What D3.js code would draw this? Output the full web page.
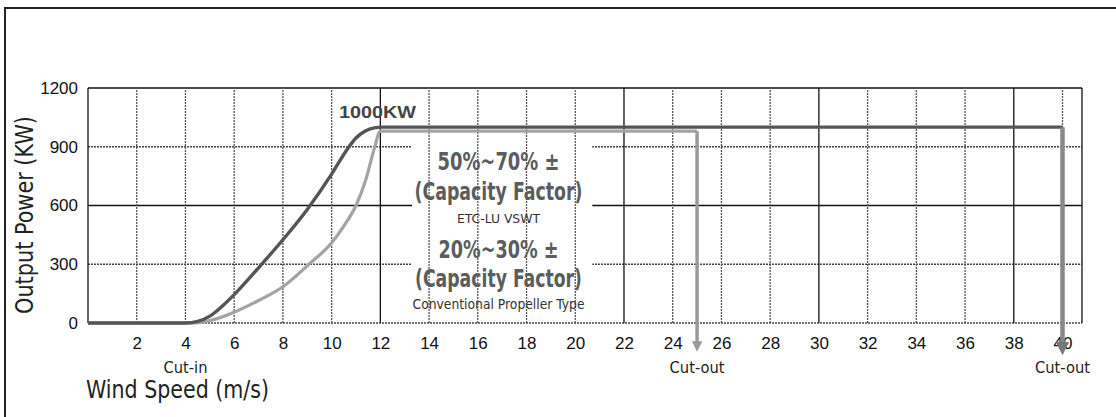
<!DOCTYPE html>
<html lang="en">
<head>
  <meta charset="UTF-8" />
  <title>Wind turbine power curve</title>
  <script src="https://d3js.org/d3.v7.min.js"></script>
  <style>
    body { margin: 0; background: #fff; }
    svg { display: block; }
    .tick text { font-family: "Liberation Sans", Arial, sans-serif; font-size: 17px; fill: #111; }
    .narrow { font-family: "Liberation Sans Narrow", "DejaVu Sans Condensed", sans-serif; }
  </style>
</head>
<body>
  <script>
    // data
    const xTicks = [2, 4, 6, 8, 10, 12, 14, 16, 18, 20, 22, 24, 26, 28, 30, 32, 34, 36, 38, 40];
    const yTicks = [0, 300, 600, 900, 1200];
    const solidX = [12, 22, 30, 38];

    // ETC-LU VSWT curve (dark)
    const vswtSpeed = [0, 4, 4.5, 5, 5.5, 6, 7, 8, 9, 10, 10.6, 11, 11.4, 11.8, 12, 40];
    const vswtPower = [0, 0, 8, 35, 85, 145, 282, 425, 580, 760, 880, 945, 982, 998, 1000, 1000];

    // conventional propeller type (light)
    const propSpeed = [0, 4.3, 5, 6, 7, 8, 9, 10, 10.5, 11, 11.4, 11.75, 12, 25];
    const propPower = [0, 0, 12, 55, 115, 185, 292, 410, 495, 600, 730, 890, 980, 980];

    const cutIn = 4, cutOutProp = 25, cutOutVswt = 40;

    const W = 1116, H = 417;
    const margin = { top: 88, right: 34, bottom: 94, left: 88 };

    const svg = d3.select('body').append('svg')
      .attr('width', W).attr('height', H);

    // outer frame (top + left edges)
    svg.append('path')
      .attr('d', `M5,${H} L5,8 L${W},8`)
      .attr('fill', 'none').attr('stroke', '#222').attr('stroke-width', 2);

    const x = d3.scaleLinear().domain([0, 40.8]).range([margin.left, W - margin.right]);
    const y = d3.scaleLinear().domain([0, 1200]).range([H - margin.bottom, margin.top]);

    // horizontal grid
    svg.append('g').selectAll('line')
      .data(yTicks)
      .join('line')
      .attr('x1', x(0)).attr('x2', x(40.8))
      .attr('y1', d => y(d)).attr('y2', d => y(d))
      .attr('stroke', d => (d === 600 || d === 1200) ? '#111' : '#444')
      .attr('stroke-width', d => d === 0 ? 1.6 : 1.3)
      .attr('stroke-dasharray', d => (d === 600 || d === 1200) ? null : '2,1');

    // white box behind the text block
    svg.append('rect')
      .attr('x', x(13.3)).attr('y', y(945))
      .attr('width', x(20.7) - x(13.3)).attr('height', y(30) - y(945))
      .attr('fill', '#fff');

    // vertical grid
    svg.append('g').selectAll('line')
      .data([0].concat(xTicks))
      .join('line')
      .attr('x1', d => x(d)).attr('x2', d => x(d))
      .attr('y1', y(0)).attr('y2', y(1200))
      .attr('stroke', d => solidX.includes(d) || d === 0 ? '#111' : '#555')
      .attr('stroke-width', 1.3)
      .attr('stroke-dasharray', d => solidX.includes(d) || d === 0 ? null : '2,1');

    svg.append('line')
      .attr('x1', x(40.8)).attr('x2', x(40.8))
      .attr('y1', y(0)).attr('y2', y(1200))
      .attr('stroke', '#111').attr('stroke-width', 1.3);

    // axes labels
    const xAxis = d3.axisBottom(x).tickValues(xTicks).tickSize(0).tickPadding(14);
    svg.append('g')
      .attr('transform', `translate(0,${y(0)})`)
      .call(xAxis)
      .call(g => g.select('.domain').remove());

    const yAxis = d3.axisLeft(y).tickValues(yTicks).tickFormat(d3.format('d')).tickSize(0).tickPadding(10);
    svg.append('g')
      .attr('transform', `translate(${x(0)},0)`)
      .call(yAxis)
      .call(g => g.select('.domain').remove());

    // arrow markers
    const defs = svg.append('defs');
    [['arrDark', '#777'], ['arrLight', '#999']].forEach(([id, c]) => {
      defs.append('marker')
        .attr('id', id)
        .attr('viewBox', '0 0 10 10')
        .attr('refX', 5).attr('refY', 5)
        .attr('markerWidth', 3).attr('markerHeight', 3)
        .attr('orient', 'auto')
        .append('path').attr('d', 'M0,0 L10,5 L0,10 z').attr('fill', c);
    });

    const line = d3.line()
      .x(d => x(d[0])).y(d => y(d[1]))
      .curve(d3.curveMonotoneX);

    const propData = propSpeed.map((s, i) => [s, propPower[i]]);
    const vswtData = vswtSpeed.map((s, i) => [s, vswtPower[i]]);

    // conventional curve + cut-out drop at 25
    svg.append('path')
      .attr('d', line(propData))
      .attr('fill', 'none').attr('stroke', '#a3a3a3').attr('stroke-width', 3.2);
    svg.append('line')
      .attr('x1', x(cutOutProp)).attr('x2', x(cutOutProp))
      .attr('y1', y(980)).attr('y2', y(-120))
      .attr('stroke', '#9a9a9a').attr('stroke-width', 3.5)
      .attr('marker-end', 'url(#arrLight)');

    // VSWT curve + cut-out drop at 40
    svg.append('path')
      .attr('d', line(vswtData))
      .attr('fill', 'none').attr('stroke', '#555').attr('stroke-width', 3.4);
    svg.append('line')
      .attr('x1', x(cutOutVswt)).attr('x2', x(cutOutVswt))
      .attr('y1', y(1000)).attr('y2', y(-130))
      .attr('stroke', '#888').attr('stroke-width', 4.5)
      .attr('marker-end', 'url(#arrDark)');

    // annotations
    svg.append('text')
      .attr('x', 339).attr('y', y(1000) - 9)
      .attr('textLength', 77).attr('lengthAdjust', 'spacingAndGlyphs')
      .style('font-family', '"Liberation Sans", Arial, sans-serif')
      .style('font-size', '17px').style('font-weight', 'bold')
      .attr('fill', '#444')
      .text('1000KW');

    const block = [
      ['50%~70% ±', 170, 24, 'bold', 122],
      ['(Capacity Factor)', 200, 24, 'bold', 168],
      ['ETC-LU VSWT', 223, 13, 'normal', 83],
      ['20%~30% ±', 258, 24, 'bold', 120],
      ['(Capacity Factor)', 287, 24, 'bold', 167],
      ['Conventional Propeller Type', 309, 14, 'normal', 172]
    ];
    svg.append('g').selectAll('text')
      .data(block)
      .join('text')
      .attr('class', 'narrow')
      .attr('x', x(16.85)).attr('y', d => d[1])
      .attr('text-anchor', 'middle')
      .attr('textLength', d => d[4]).attr('lengthAdjust', 'spacingAndGlyphs')
      .style('font-size', d => d[2] + 'px').style('font-weight', d => d[3])
      .attr('fill', d => d[2] > 20 ? '#5c5c5c' : '#333')
      .text(d => d[0]);

    const small = [['Cut-in', cutIn, 44], ['Cut-out', cutOutProp, 55], ['Cut-out', cutOutVswt, 55]];
    svg.append('g').selectAll('text')
      .data(small)
      .join('text')
      .attr('class', 'narrow')
      .attr('x', d => x(d[1])).attr('y', 373)
      .attr('text-anchor', 'middle')
      .attr('textLength', d => d[2]).attr('lengthAdjust', 'spacingAndGlyphs')
      .style('font-size', '16px').attr('fill', '#222')
      .text(d => d[0]);

    svg.append('text')
      .attr('class', 'narrow')
      .attr('x', 86).attr('y', 398)
      .attr('textLength', 183).attr('lengthAdjust', 'spacingAndGlyphs')
      .style('font-size', '24px').attr('fill', '#222')
      .text('Wind Speed (m/s)');

    svg.append('text')
      .attr('class', 'narrow')
      .attr('transform', 'translate(33,215) rotate(-90)')
      .attr('text-anchor', 'middle')
      .attr('textLength', 198).attr('lengthAdjust', 'spacingAndGlyphs')
      .style('font-size', '25px').attr('fill', '#222')
      .text('Output Power (KW)');
  </script>
</body>
</html>
